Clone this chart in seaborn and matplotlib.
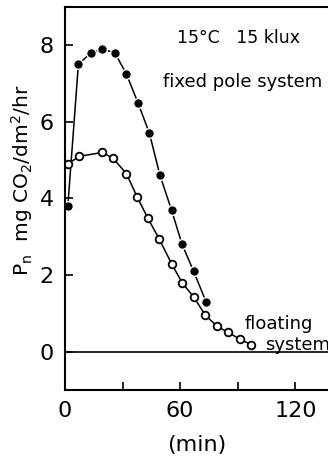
import pandas as pd
import seaborn as sns
import matplotlib.pyplot as plt

# readings: time (min) and Pn (mg CO2/dm2/hr)
fixed_min = [1.5, 7, 13.5, 19.5, 26, 32, 38, 44, 49.5, 55.5, 61, 67, 73.5]
fixed_pn = [3.8, 7.5, 7.8, 7.9, 7.8, 7.25, 6.5, 5.7, 4.6, 3.7, 2.8, 2.1, 1.3]

floating_min = [1.5, 7.5, 19.5, 25, 32, 37.5, 43, 49, 55.5, 61, 67, 73, 79, 85, 91, 97]
floating_pn = [4.9, 5.1, 5.2, 5.05, 4.65, 4.05, 3.5, 2.95, 2.3, 1.8, 1.43, 0.96,
               0.67, 0.5, 0.33, 0.18]

x_ticks = [0, 30, 60, 90, 120]
x_tick_labels = ["0", "", "60", "", "120"]
y_ticks = [0, 2, 4, 6, 8]

fixed = pd.DataFrame({"t": fixed_min, "pn": fixed_pn})
floating = pd.DataFrame({"t": floating_min, "pn": floating_pn})

sns.set_style("ticks")
plt.rcParams['font.family'] = ['DejaVu Sans']
plt.rcParams['text.color'] = 'black'
plt.rcParams['axes.labelcolor'] = 'black'
plt.rcParams['xtick.color'] = 'black'
plt.rcParams['ytick.color'] = 'black'
plt.rcParams['axes.edgecolor'] = 'black'

fig = plt.figure(figsize=(3.28, 4.62), dpi=100)
ax = fig.add_axes([0.198, 0.156, 0.802, 0.829])

ax.axhline(0, color="black", lw=1.2, zorder=1)

sns.lineplot(data=fixed, x="t", y="pn", ax=ax, color="black", lw=1.1,
             marker="o", markersize=7, markerfacecolor="black",
             markeredgecolor="white", markeredgewidth=1.0, sort=False)
sns.lineplot(data=floating, x="t", y="pn", ax=ax, color="black", lw=1.1,
             marker="o", markersize=5.5, markerfacecolor="white",
             markeredgecolor="black", markeredgewidth=1.3, sort=False)

ax.set_xlim(0, 137)
ax.set_ylim(-1, 9)
ax.set_xticks(x_ticks)
ax.set_xticklabels(x_tick_labels)
ax.set_yticks(y_ticks)
ax.tick_params(direction="in", length=6, width=1.2, labelsize=16, pad=8)

for s in ["left", "top", "bottom"]:
    ax.spines[s].set_linewidth(1.5)
ax.spines["right"].set_visible(False)

ax.set_xlabel("(min)", fontsize=16, labelpad=10)
ax.set_ylabel(r"P$_\mathregular{n}$  mg CO$_2$/dm$^2$/hr", fontsize=14.5)
ax.yaxis.set_label_coords(-0.115, 0.548)

ax.text(0.426, 0.92, "15°C   15 klux", transform=ax.transAxes, fontsize=12.5, va="center")
ax.text(0.373, 0.804, "fixed pole system", transform=ax.transAxes, fontsize=13, va="center")
ax.text(0.684, 0.172, "floating", transform=ax.transAxes, fontsize=13, va="center")
ax.text(0.76, 0.118, "system", transform=ax.transAxes, fontsize=13, va="center")

fig.savefig("out.png", dpi=100)
